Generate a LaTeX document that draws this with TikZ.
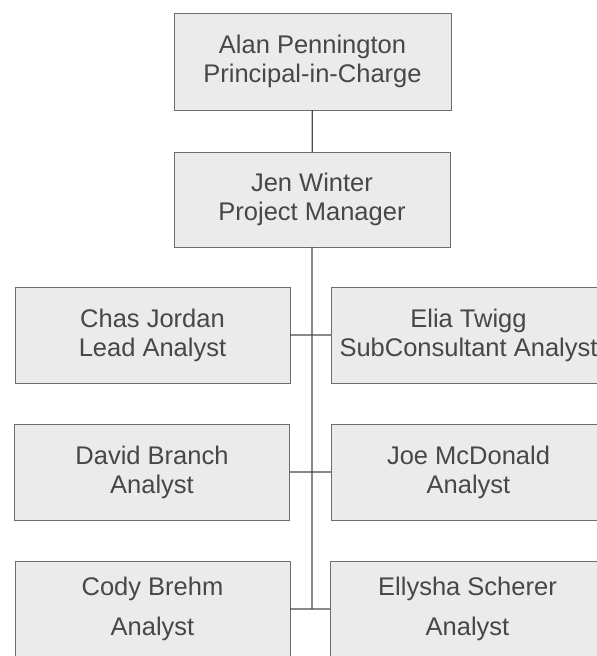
\documentclass[tikz,border=0pt]{standalone}
\usepackage{fontspec}
\setmainfont{Liberation Sans}
\usetikzlibrary{positioning}
\definecolor{boxline}{HTML}{6E6E6E}
\definecolor{boxfill}{HTML}{EBEBEB}
\definecolor{boxtext}{HTML}{474747}
\definecolor{linkgray}{HTML}{4A4A4A}

\begin{document}
\begin{tikzpicture}[
        x=1pt,y=-1pt,
        box/.style={draw=boxline,fill=boxfill,text=boxtext,rectangle,align=center,minimum width=275pt,minimum height=96pt,inner sep=0pt,font=\fontsize{25.5}{29}\selectfont},
        wide/.style={font=\fontsize{25.5}{40}\selectfont},
        link/.style={draw=linkgray,line width=1.3pt}
    ]
    \useasboundingbox (0,0) rectangle (597,656);
    \node[box,minimum width=277pt,minimum height=97pt] (alan) at (312.5,61.5) {Alan Pennington\\Principal-in-Charge};
    \node[box,minimum width=276pt,minimum height=95pt] (jen) at (312,199.5) {Jen Winter\\Project Manager};
    \node[box] (chas) at (152.5,335) {Chas Jordan\\Lead Analyst};
    \node[box] (elia) at (468.5,335) {Elia Twigg\\SubConsultant Analyst};
    \node[box] (david) at (152,472) {David Branch\\Analyst};
    \node[box] (joe) at (468.5,472) {Joe McDonald\\Analyst};
    \node[box,wide] (cody) at (152.5,609) {Cody Brehm\\Analyst};
    \node[box,wide] (elly) at (467.5,609) {Ellysha Scherer\\Analyst};
    \draw[link] (alan)--(jen) (jen.south)--(jen.south |- cody.east) (chas)--(elia) (david)--(joe) (cody)--(elly);
\end{tikzpicture}
\end{document}
